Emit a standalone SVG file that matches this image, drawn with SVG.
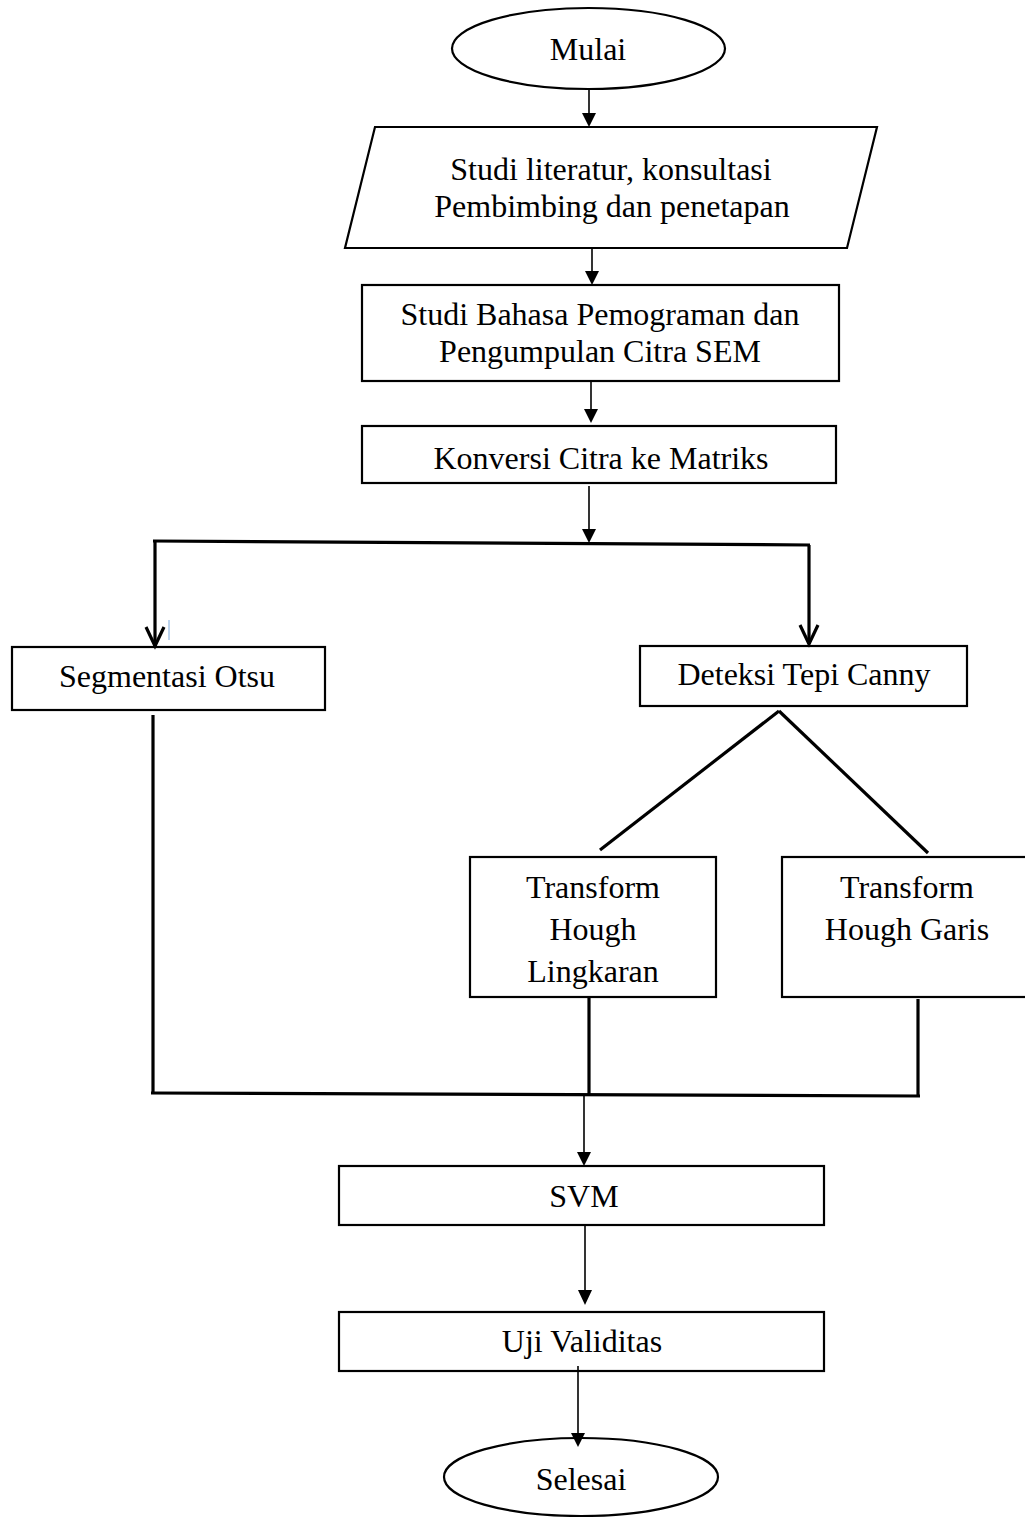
<svg xmlns="http://www.w3.org/2000/svg" width="1025" height="1517" viewBox="0 0 1025 1517">
<style>
  .box { fill: #fff; stroke: #000; stroke-width: 2.2; }
  .t { font-family: "Liberation Serif", "Times New Roman", serif; font-size: 32px; fill: #000; text-anchor: middle; }
  .thin { stroke: #000; stroke-width: 1.6; fill: none; }
  .thick { stroke: #000; stroke-width: 3.2; fill: none; }
  .head { fill: #000; }
</style>
<rect width="1025" height="1517" fill="#fff"/>

<g id="mulai">
  <ellipse class="box" cx="588.5" cy="48.5" rx="136.5" ry="40.5"/>
  <text class="t" x="588" y="60">Mulai</text>
</g>

<g id="studi-literatur">
  <polygon class="box" points="375,127 877,127 847,248 345,248"/>
  <text class="t" x="611" y="180">Studi literatur, konsultasi</text>
  <text class="t" x="612" y="217">Pembimbing dan penetapan</text>
</g>

<g id="studi-bahasa">
  <rect class="box" x="362" y="285" width="477" height="96"/>
  <text class="t" x="600" y="325">Studi Bahasa Pemograman dan</text>
  <text class="t" x="600" y="362">Pengumpulan Citra SEM</text>
</g>

<g id="konversi">
  <rect class="box" x="362" y="426" width="474" height="57"/>
  <text class="t" x="601" y="469">Konversi Citra ke Matriks</text>
</g>

<g id="segmentasi">
  <rect class="box" x="12" y="647" width="313" height="63"/>
  <text class="t" x="167" y="687">Segmentasi Otsu</text>
</g>

<g id="canny">
  <rect class="box" x="640" y="646" width="327" height="60"/>
  <text class="t" x="804" y="685">Deteksi Tepi Canny</text>
</g>

<g id="hough-lingkaran">
  <rect class="box" x="470" y="857" width="246" height="140"/>
  <text class="t" x="593" y="898">Transform</text>
  <text class="t" x="593" y="940">Hough</text>
  <text class="t" x="593" y="982">Lingkaran</text>
</g>

<g id="hough-garis">
  <rect class="box" x="782" y="857" width="250" height="140"/>
  <text class="t" x="907" y="898">Transform</text>
  <text class="t" x="907" y="940">Hough Garis</text>
</g>

<g id="svm">
  <rect class="box" x="339" y="1166" width="485" height="59"/>
  <text class="t" x="584" y="1207">SVM</text>
</g>

<g id="uji">
  <rect class="box" x="339" y="1312" width="485" height="59"/>
  <text class="t" x="582" y="1352">Uji Validitas</text>
</g>

<g id="selesai">
  <ellipse class="box" cx="581" cy="1477" rx="137" ry="39"/>
  <text class="t" x="581" y="1490">Selesai</text>
</g>

<g id="connectors">
  <line class="thin" x1="589" y1="89" x2="589" y2="113"/>
  <path class="head" d="M582,113 L596,113 L589,127 Z"/>
  <line class="thin" x1="592" y1="248" x2="592" y2="271"/>
  <path class="head" d="M585,271 L599,271 L592,285 Z"/>
  <line class="thin" x1="591" y1="381" x2="591" y2="409"/>
  <path class="head" d="M584,409 L598,409 L591,423 Z"/>
  <line class="thin" x1="589" y1="486" x2="589" y2="529"/>
  <path class="head" d="M582,529 L596,529 L589,543 Z"/>
  <line class="thick" x1="153" y1="541" x2="810" y2="545"/>
  <line class="thick" x1="155" y1="541" x2="155" y2="646"/>
  <polyline class="thick" points="146,627 155,646 164,627"/>
  <line class="thick" x1="809" y1="545" x2="809" y2="644"/>
  <polyline class="thick" points="800,625 809,644 818,625"/>
  <line x1="169" y1="620" x2="169" y2="640" stroke="#7aa8dc" stroke-width="1"/>
  <line class="thick" x1="779" y1="711" x2="600" y2="850"/>
  <line class="thick" x1="779" y1="711" x2="928" y2="853"/>
  <line class="thick" x1="153" y1="715" x2="153" y2="1093"/>
  <line class="thick" x1="589" y1="998" x2="589" y2="1094"/>
  <line class="thick" x1="918" y1="999" x2="918" y2="1096"/>
  <line class="thick" x1="151" y1="1093" x2="920" y2="1096"/>
  <line class="thin" x1="584" y1="1094" x2="584" y2="1152"/>
  <path class="head" d="M577,1152 L591,1152 L584,1166 Z"/>
  <line class="thin" x1="585" y1="1226" x2="585" y2="1290"/>
  <path class="head" d="M578,1290 L592,1290 L585,1305 Z"/>
  <line class="thin" x1="578" y1="1366" x2="578" y2="1433"/>
  <path class="head" d="M571,1433 L585,1433 L578,1447 Z"/>
</g>
</svg>
